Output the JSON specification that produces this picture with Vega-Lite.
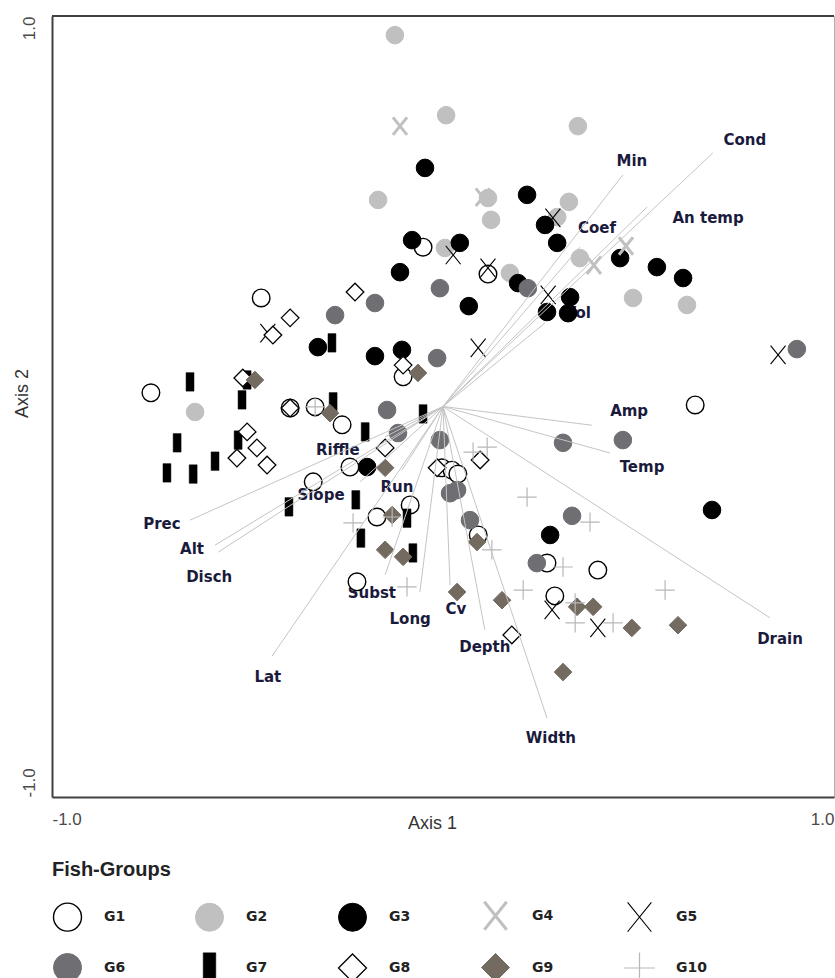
{
  "$schema": "https://vega.github.io/schema/vega-lite/v6.json",
  "width": 782,
  "height": 781,
  "autosize": "none",
  "padding": {"left": 52, "top": 16, "right": 1, "bottom": 181},
  "background": "white",
  "config": {"view": {"stroke": "#b0b0b0", "strokeWidth": 1}, "font": "Liberation Sans"},
  "datasets": {
    "vectors": [
      {"v": "Cond", "ax": 0.69, "ay": 0.649, "lx": 0.772, "ly": 0.682},
      {"v": "Min", "ax": 0.46, "ay": 0.593, "lx": 0.483, "ly": 0.629},
      {"v": "An temp", "ax": 0.522, "ay": 0.511, "lx": 0.678, "ly": 0.483},
      {"v": "Coef", "ax": 0.35, "ay": 0.408, "lx": 0.394, "ly": 0.457},
      {"v": "Vol", "ax": 0.261, "ay": 0.214, "lx": 0.345, "ly": 0.239},
      {"v": "Amp", "ax": 0.381, "ay": -0.048, "lx": 0.476, "ly": -0.012},
      {"v": "Temp", "ax": 0.427, "ay": -0.119, "lx": 0.509, "ly": -0.155},
      {"v": "Drain", "ax": 0.836, "ay": -0.541, "lx": 0.862, "ly": -0.595},
      {"v": "Width", "ax": 0.266, "ay": -0.798, "lx": 0.276, "ly": -0.849},
      {"v": "Depth", "ax": 0.107, "ay": -0.572, "lx": 0.107, "ly": -0.616},
      {"v": "Cv", "ax": 0.018, "ay": -0.457, "lx": 0.033, "ly": -0.519},
      {"v": "Long", "ax": -0.059, "ay": -0.475, "lx": -0.084, "ly": -0.544},
      {"v": "Subst", "ax": -0.148, "ay": -0.431, "lx": -0.182, "ly": -0.478},
      {"v": "Run", "ax": -0.105, "ay": -0.163, "lx": -0.118, "ly": -0.206},
      {"v": "Riffle", "ax": -0.148, "ay": -0.078, "lx": -0.269, "ly": -0.111},
      {"v": "Slope", "ax": -0.212, "ay": -0.193, "lx": -0.312, "ly": -0.227},
      {"v": "Prec", "ax": -0.647, "ay": -0.291, "lx": -0.719, "ly": -0.301},
      {"v": "Alt", "ax": -0.583, "ay": -0.355, "lx": -0.642, "ly": -0.365},
      {"v": "Disch", "ax": -0.575, "ay": -0.373, "lx": -0.598, "ly": -0.437},
      {"v": "Lat", "ax": -0.437, "ay": -0.639, "lx": -0.448, "ly": -0.693}
    ],
    "sites": [
      {"g": "G1", "x": -0.747, "y": 0.035},
      {"g": "G1", "x": -0.465, "y": 0.278},
      {"g": "G1", "x": -0.391, "y": -0.004},
      {"g": "G1", "x": -0.327, "y": -0.001},
      {"g": "G1", "x": -0.258, "y": -0.047},
      {"g": "G1", "x": -0.238, "y": -0.155},
      {"g": "G1", "x": -0.332, "y": -0.193},
      {"g": "G1", "x": -0.102, "y": 0.076},
      {"g": "G1", "x": -0.084, "y": -0.252},
      {"g": "G1", "x": -0.169, "y": -0.283},
      {"g": "G1", "x": -0.22, "y": -0.449},
      {"g": "G1", "x": -0.003, "y": -0.157},
      {"g": "G1", "x": 0.023, "y": -0.163},
      {"g": "G1", "x": 0.038, "y": -0.173},
      {"g": "G1", "x": 0.09, "y": -0.329},
      {"g": "G1", "x": 0.266, "y": -0.401},
      {"g": "G1", "x": 0.396, "y": -0.419},
      {"g": "G1", "x": 0.286, "y": -0.485},
      {"g": "G1", "x": 0.645, "y": 0.004},
      {"g": "G1", "x": -0.051, "y": 0.408},
      {"g": "G1", "x": 0.115, "y": 0.339},
      {"g": "G2", "x": -0.123, "y": 0.951},
      {"g": "G2", "x": 0.008, "y": 0.746},
      {"g": "G2", "x": 0.345, "y": 0.718},
      {"g": "G2", "x": -0.166, "y": 0.529},
      {"g": "G2", "x": 0.115, "y": 0.534},
      {"g": "G2", "x": 0.322, "y": 0.524},
      {"g": "G2", "x": 0.123, "y": 0.478},
      {"g": "G2", "x": 0.005, "y": 0.406},
      {"g": "G2", "x": 0.171, "y": 0.342},
      {"g": "G2", "x": 0.292, "y": 0.485},
      {"g": "G2", "x": 0.35, "y": 0.38},
      {"g": "G2", "x": 0.486, "y": 0.278},
      {"g": "G2", "x": 0.624, "y": 0.26},
      {"g": "G2", "x": -0.634, "y": -0.014},
      {"g": "G3", "x": -0.046, "y": 0.611},
      {"g": "G3", "x": 0.215, "y": 0.542},
      {"g": "G3", "x": 0.261, "y": 0.465},
      {"g": "G3", "x": 0.292, "y": 0.419},
      {"g": "G3", "x": -0.079, "y": 0.426},
      {"g": "G3", "x": 0.043, "y": 0.419},
      {"g": "G3", "x": -0.11, "y": 0.344},
      {"g": "G3", "x": 0.066, "y": 0.257},
      {"g": "G3", "x": 0.192, "y": 0.316},
      {"g": "G3", "x": 0.325, "y": 0.28},
      {"g": "G3", "x": 0.266, "y": 0.242},
      {"g": "G3", "x": 0.32, "y": 0.239},
      {"g": "G3", "x": 0.453, "y": 0.38},
      {"g": "G3", "x": 0.547, "y": 0.357},
      {"g": "G3", "x": 0.614, "y": 0.329},
      {"g": "G3", "x": -0.174, "y": 0.129},
      {"g": "G3", "x": -0.105, "y": 0.145},
      {"g": "G3", "x": -0.32, "y": 0.152},
      {"g": "G3", "x": -0.194, "y": -0.155},
      {"g": "G3", "x": 0.274, "y": -0.329},
      {"g": "G3", "x": 0.688, "y": -0.265},
      {"g": "G4", "x": -0.11, "y": 0.718},
      {"g": "G4", "x": 0.102, "y": 0.536},
      {"g": "G4", "x": 0.468, "y": 0.411},
      {"g": "G4", "x": 0.386, "y": 0.362},
      {"g": "G5", "x": 0.281, "y": 0.483},
      {"g": "G5", "x": 0.026, "y": 0.388},
      {"g": "G5", "x": 0.115, "y": 0.355},
      {"g": "G5", "x": 0.269, "y": 0.286},
      {"g": "G5", "x": 0.09, "y": 0.15},
      {"g": "G5", "x": -0.448, "y": 0.188},
      {"g": "G5", "x": 0.857, "y": 0.132},
      {"g": "G5", "x": 0.279, "y": -0.521},
      {"g": "G5", "x": 0.396, "y": -0.567},
      {"g": "G6", "x": -0.008, "y": 0.303},
      {"g": "G6", "x": -0.174, "y": 0.265},
      {"g": "G6", "x": -0.276, "y": 0.234},
      {"g": "G6", "x": -0.015, "y": 0.124},
      {"g": "G6", "x": 0.217, "y": 0.303},
      {"g": "G6", "x": -0.143, "y": -0.009},
      {"g": "G6", "x": -0.115, "y": -0.068},
      {"g": "G6", "x": -0.008, "y": -0.086},
      {"g": "G6", "x": 0.018, "y": -0.222},
      {"g": "G6", "x": 0.036, "y": -0.214},
      {"g": "G6", "x": 0.069, "y": -0.291},
      {"g": "G6", "x": 0.307, "y": -0.093},
      {"g": "G6", "x": 0.46, "y": -0.086},
      {"g": "G6", "x": 0.33, "y": -0.28},
      {"g": "G6", "x": 0.24, "y": -0.401},
      {"g": "G6", "x": 0.905, "y": 0.147},
      {"g": "G7", "x": -0.647, "y": 0.063},
      {"g": "G7", "x": -0.501, "y": 0.068},
      {"g": "G7", "x": -0.514, "y": 0.017},
      {"g": "G7", "x": -0.284, "y": 0.163},
      {"g": "G7", "x": -0.281, "y": 0.012},
      {"g": "G7", "x": -0.199, "y": -0.065},
      {"g": "G7", "x": -0.051, "y": -0.019},
      {"g": "G7", "x": -0.68, "y": -0.093},
      {"g": "G7", "x": -0.583, "y": -0.14},
      {"g": "G7", "x": -0.706, "y": -0.17},
      {"g": "G7", "x": -0.639, "y": -0.173},
      {"g": "G7", "x": -0.524, "y": -0.086},
      {"g": "G7", "x": -0.394, "y": -0.257},
      {"g": "G7", "x": -0.223, "y": -0.239},
      {"g": "G7", "x": -0.092, "y": -0.286},
      {"g": "G7", "x": -0.21, "y": -0.337},
      {"g": "G7", "x": -0.077, "y": -0.375},
      {"g": "G8", "x": -0.225, "y": 0.293},
      {"g": "G8", "x": -0.391, "y": 0.227},
      {"g": "G8", "x": -0.435, "y": 0.183},
      {"g": "G8", "x": -0.512, "y": 0.073},
      {"g": "G8", "x": -0.501, "y": -0.065},
      {"g": "G8", "x": -0.476, "y": -0.106},
      {"g": "G8", "x": -0.527, "y": -0.132},
      {"g": "G8", "x": -0.45, "y": -0.15},
      {"g": "G8", "x": -0.148, "y": -0.106},
      {"g": "G8", "x": -0.102, "y": 0.106},
      {"g": "G8", "x": -0.015, "y": -0.157},
      {"g": "G8", "x": 0.095, "y": -0.137},
      {"g": "G8", "x": 0.176, "y": -0.585},
      {"g": "G8", "x": -0.391, "y": -0.004},
      {"g": "G9", "x": -0.481, "y": 0.068},
      {"g": "G9", "x": -0.289, "y": -0.017},
      {"g": "G9", "x": -0.064, "y": 0.086},
      {"g": "G9", "x": -0.148, "y": -0.157},
      {"g": "G9", "x": -0.13, "y": -0.278},
      {"g": "G9", "x": -0.148, "y": -0.367},
      {"g": "G9", "x": -0.102, "y": -0.385},
      {"g": "G9", "x": 0.036, "y": -0.475},
      {"g": "G9", "x": 0.087, "y": -0.347},
      {"g": "G9", "x": 0.151, "y": -0.496},
      {"g": "G9", "x": 0.307, "y": -0.68},
      {"g": "G9", "x": 0.343, "y": -0.513},
      {"g": "G9", "x": 0.384, "y": -0.513},
      {"g": "G9", "x": 0.483, "y": -0.567},
      {"g": "G9", "x": 0.601, "y": -0.56},
      {"g": "G10", "x": 0.113, "y": -0.104},
      {"g": "G10", "x": 0.077, "y": -0.117},
      {"g": "G10", "x": 0.215, "y": -0.232},
      {"g": "G10", "x": 0.376, "y": -0.296},
      {"g": "G10", "x": 0.125, "y": -0.367},
      {"g": "G10", "x": 0.307, "y": -0.411},
      {"g": "G10", "x": 0.205, "y": -0.47},
      {"g": "G10", "x": -0.092, "y": -0.462},
      {"g": "G10", "x": -0.23, "y": -0.298},
      {"g": "G10", "x": -0.13, "y": -0.283},
      {"g": "G10", "x": 0.338, "y": -0.503},
      {"g": "G10", "x": 0.338, "y": -0.554},
      {"g": "G10", "x": 0.435, "y": -0.554},
      {"g": "G10", "x": 0.568, "y": -0.47},
      {"g": "G10", "x": -0.327, "y": -0.001}
    ]
  },
  "layer": [
    {
      "data": {"values": [{"edge": "top"}]},
      "mark": {"type": "rule", "color": "#404040", "strokeWidth": 2},
      "encoding": {
        "x": {"datum": -1, "type": "quantitative", "title": "Axis 1"},
        "x2": {"datum": 1},
        "y": {"datum": 1, "type": "quantitative", "title": "Axis 2"}
      }
    },
    {
      "data": {"name": "vectors"},
      "mark": {"type": "text", "font": "DejaVu Sans", "fontWeight": "bold", "fontSize": 15, "color": "#1a1a3c", "align": "center", "baseline": "middle"},
      "encoding": {
        "x": {"field": "lx", "type": "quantitative", "title": "Axis 1"},
        "y": {"field": "ly", "type": "quantitative", "title": "Axis 2"},
        "text": {"field": "v"}
      }
    },
    {
      "data": {"name": "sites"},
      "mark": {"type": "point", "size": 310, "opacity": 1},
      "encoding": {
        "x": {
          "field": "x", "type": "quantitative", "title": "Axis 1",
          "scale": {"domain": [-1, 1], "nice": false, "zero": false},
          "axis": {
            "values": [-1, 1], "grid": false, "ticks": false, "tickSize": 0,
            "domain": true, "domainColor": "#404040", "domainWidth": 2,
            "labelFlush": true, "labelPadding": 14, "labelFontSize": 17, "labelColor": "#4a4a4a",
            "labelExpr": "datum.value < 0 ? '-1.0' : '1.0'",
            "titleFontSize": 18, "titleFontWeight": "normal", "titleColor": "#333333",
            "titleX": 380, "titleY": 26, "titleBaseline": "middle", "titleAlign": "center"
          }
        },
        "y": {
          "field": "y", "type": "quantitative", "title": "Axis 2",
          "scale": {"domain": [-1, 1], "nice": false, "zero": false},
          "axis": {
            "values": [-1, 1], "grid": false, "ticks": false, "tickSize": 0,
            "domain": true, "domainColor": "#404040", "domainWidth": 2,
            "labelFlush": false, "labelAngle": 270, "labelBaseline": "middle",
            "labelAlign": {"condition": {"test": "datum.value < 0", "value": "left"}, "value": "right"},
            "labelPadding": 23, "labelFontSize": 17, "labelColor": "#4a4a4a",
            "labelExpr": "datum.value < 0 ? '-1.0' : '1.0'",
            "titleFontSize": 18, "titleFontWeight": "normal", "titleColor": "#333333",
            "titleAngle": 270, "titleX": -30, "titleY": 377, "titleBaseline": "middle", "titleAlign": "center"
          }
        },
        "shape": {
          "field": "g", "type": "nominal",
          "scale": {
            "domain": ["G1", "G2", "G3", "G4", "G5", "G6", "G7", "G8", "G9", "G10"],
            "range": ["circle", "circle", "circle", "M-0.8,-1L0.8,1M-0.8,1L0.8,-1", "M-0.85,-1.05L0.85,1.05M-0.85,1.05L0.85,-1.05", "circle", "M-0.45,-1.05H0.45V1.05H-0.45Z", "diamond", "diamond", "M0,-1.1V1.1M-1.1,0H1.1"]
          },
          "legend": {"title": "Fish-Groups", "orient": "none", "legendX": 0, "legendY": 844, "direction": "horizontal", "columns": 5, "symbolSize": 784, "labelOffset": 21, "columnPadding": 67, "rowPadding": 14, "titlePadding": 20, "titleFontSize": 20, "titleFontWeight": "bold", "titleColor": "#222222", "labelFontSize": 14, "labelFont": "DejaVu Sans", "labelFontWeight": "bold", "labelColor": "#222222", "symbolOpacity": 1}
        },
        "fill": {
          "field": "g", "type": "nominal",
          "scale": {
            "domain": ["G1", "G2", "G3", "G4", "G5", "G6", "G7", "G8", "G9", "G10"],
            "range": ["white", "#c0c0c0", "black", "transparent", "transparent", "#6e6e73", "black", "white", "#736a60", "transparent"]
          },
          "legend": {"title": "Fish-Groups", "orient": "none", "legendX": 0, "legendY": 844, "direction": "horizontal", "columns": 5, "symbolSize": 784, "labelOffset": 21, "columnPadding": 67, "rowPadding": 14, "titlePadding": 20, "titleFontSize": 20, "titleFontWeight": "bold", "titleColor": "#222222", "labelFontSize": 14, "labelFont": "DejaVu Sans", "labelFontWeight": "bold", "labelColor": "#222222", "symbolOpacity": 1}
        },
        "stroke": {
          "field": "g", "type": "nominal",
          "scale": {
            "domain": ["G1", "G2", "G3", "G4", "G5", "G6", "G7", "G8", "G9", "G10"],
            "range": ["black", "#c0c0c0", "black", "#c0c0c0", "black", "#6e6e73", "black", "black", "#736a60", "#b8b8b8"]
          },
          "legend": {"title": "Fish-Groups", "orient": "none", "legendX": 0, "legendY": 844, "direction": "horizontal", "columns": 5, "symbolSize": 784, "labelOffset": 21, "columnPadding": 67, "rowPadding": 14, "titlePadding": 20, "titleFontSize": 20, "titleFontWeight": "bold", "titleColor": "#222222", "labelFontSize": 14, "labelFont": "DejaVu Sans", "labelFontWeight": "bold", "labelColor": "#222222", "symbolOpacity": 1}
        },
        "strokeWidth": {
          "field": "g", "type": "ordinal",
          "scale": {
            "type": "ordinal",
            "domain": ["G1", "G2", "G3", "G4", "G5", "G6", "G7", "G8", "G9", "G10"],
            "range": [1.4, 1, 1, 3, 1.1, 1, 0.5, 1.3, 1, 1.2]
          },
          "legend": {"title": "Fish-Groups", "orient": "none", "legendX": 0, "legendY": 844, "direction": "horizontal", "columns": 5, "symbolSize": 784, "labelOffset": 21, "columnPadding": 67, "rowPadding": 14, "titlePadding": 20, "titleFontSize": 20, "titleFontWeight": "bold", "titleColor": "#222222", "labelFontSize": 14, "labelFont": "DejaVu Sans", "labelFontWeight": "bold", "labelColor": "#222222", "symbolOpacity": 1}
        }
      }
    },
    {
      "data": {"name": "vectors"},
      "mark": {"type": "rule", "color": "#c4c4c4", "strokeWidth": 1},
      "encoding": {
        "x": {"field": "ax", "type": "quantitative", "title": "Axis 1"},
        "y": {"field": "ay", "type": "quantitative", "title": "Axis 2"},
        "x2": {"datum": 0},
        "y2": {"datum": 0}
      }
    }
  ]
}
